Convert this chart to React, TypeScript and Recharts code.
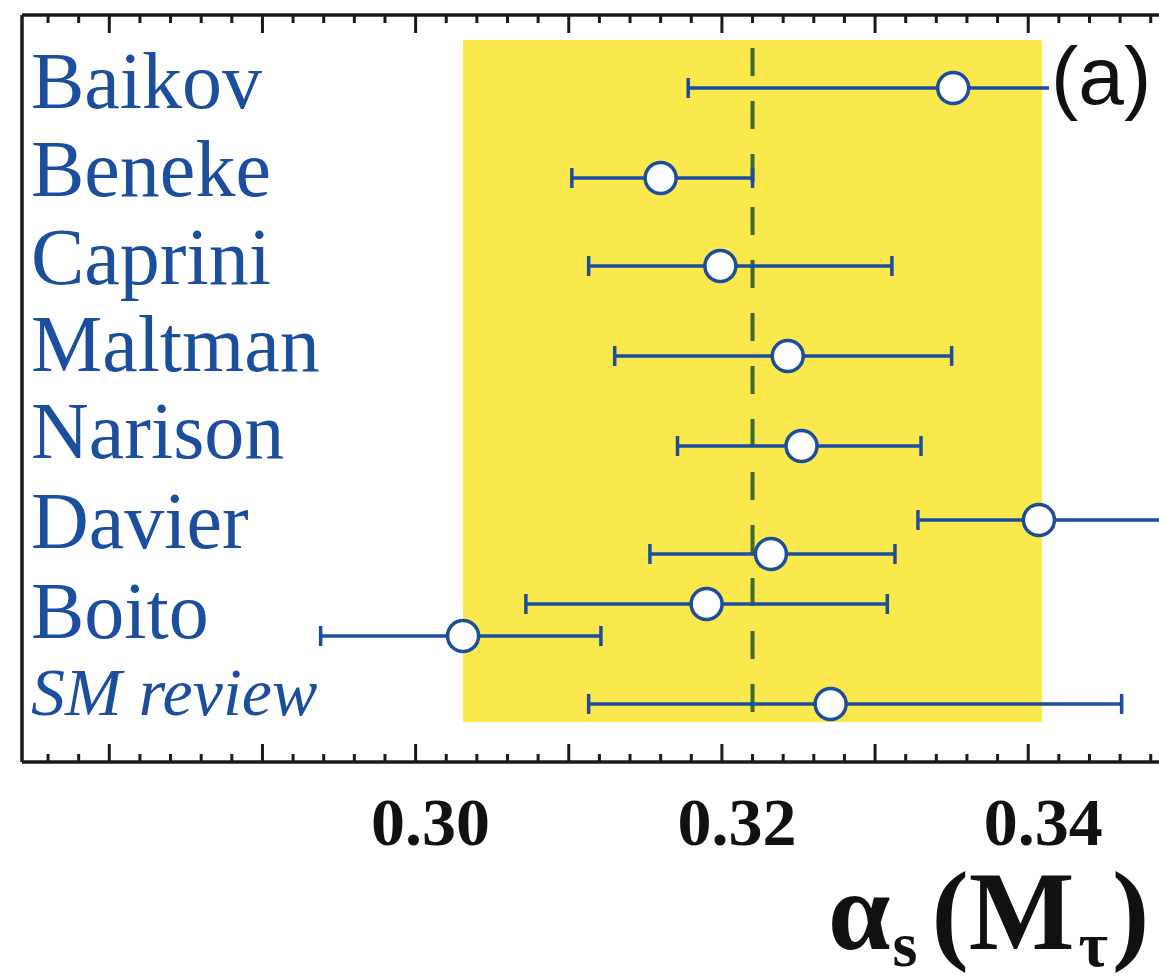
import React from "react"
import {
  ScatterChart,
  Scatter,
  XAxis,
  YAxis,
  ErrorBar,
  ReferenceArea,
  ReferenceLine,
  Label
} from "recharts"

// row labels drawn inside the frame, and where they sit (row units, 0 = top)
const names = ["Baikov", "Beneke", "Caprini", "Maltman", "Narison", "Davier", "Boito", "SM review"]
const namePos = [0.821, 1.81, 2.8, 3.778, 4.757, 5.769, 6.78, 7.703]

// measurements
const pointNames = ["Baikov", "Beneke", "Caprini", "Maltman", "Narison", "Davier", "Davier", "Boito", "Boito", "SM review"]
const pointRow = [0.821, 1.833, 2.822, 3.834, 4.846, 5.679, 6.061, 6.623, 6.983, 7.747]
const central = [0.3351, 0.316, 0.3199, 0.3243, 0.3252, 0.3407, 0.3232, 0.319, 0.3031, 0.3271]
const lower = [0.3178, 0.3102, 0.3113, 0.313, 0.3171, 0.3328, 0.3153, 0.3072, 0.2938, 0.3113]
const upper = [0.345, 0.322, 0.3311, 0.335, 0.333, 0.356, 0.3313, 0.3308, 0.3121, 0.3461]

// average and its band
const average = 0.322
const bandLow = 0.3031
const bandHigh = 0.3409

const xDomain = [0.2743, 0.352]
const xTicks = [
  0.276, 0.278, 0.28, 0.282, 0.284, 0.286, 0.288, 0.29, 0.292, 0.294, 0.296, 0.298,
  0.3, 0.302, 0.304, 0.306, 0.308, 0.31, 0.312, 0.314, 0.316, 0.318, 0.32, 0.322,
  0.324, 0.326, 0.328, 0.33, 0.332, 0.334, 0.336, 0.338, 0.34, 0.342, 0.344, 0.346,
  0.348, 0.35
]
const xLabels = [0.3, 0.32, 0.34]

const BLUE = "#1c4e9e"
const INK = "#1a1a1a"
const SERIF = "'Liberation Serif', 'Times New Roman', serif"
const PLOT_H = 747

const data = central.map((c, i) => ({
  name: pointNames[i],
  x: c,
  y: pointRow[i],
  err: [c - lower[i], upper[i] - c]
}))

const isMajor = (v: number) => Math.abs(v * 100 - Math.round(v * 100)) < 1e-6

// bottom axis tick: inward marks on bottom and top frame, plus label
const BottomTick = (props: any) => {
  const { x, y, payload } = props
  const v = payload.value
  const len = isMajor(v) ? 18 : 8
  const top = y - PLOT_H
  const showLabel = xLabels.some(l => Math.abs(l - v) < 1e-9)
  return (
    <g>
      <rect x={x - 1.5} y={y - len} width={3} height={len} fill={INK} />
      <rect x={x - 1.5} y={top} width={3} height={len} fill={INK} />
      {showLabel && (
        <text
          x={x + 15}
          y={y + 83}
          textAnchor="middle"
          fontFamily={SERIF}
          fontWeight="bold"
          fontSize={68}
          fill="#111"
        >
          {v.toFixed(2)}
        </text>
      )}
    </g>
  )
}

const NameTick = (props: any) => {
  const { x, y, payload, index } = props
  const i = typeof index === "number" ? index : namePos.indexOf(payload.value)
  const italic = names[i] === "SM review"
  return (
    <text
      x={x + 9}
      y={y + (italic ? 15 : 20)}
      fontFamily={SERIF}
      fontStyle={italic ? "italic" : "normal"}
      fontSize={italic ? 68 : 80}
      fill={BLUE}
    >
      {names[i]}
    </text>
  )
}

const renderTitle = (props: any) => {
  const vb = props.viewBox
  return (
    <text x={vb.x + 806} y={vb.y + 187} fontFamily={SERIF} fontWeight="bold" fontSize={112} fill="#111">
      α
      <tspan fontSize={64} dx={2} dy={17}>s</tspan>
      <tspan dx={14} dy={-17}>(M</tspan>
      <tspan fontSize={64} dx={4} dy={17}>τ</tspan>
      <tspan dx={4} dy={-17}>)</tspan>
    </text>
  )
}

const renderPanel = () => (
  <g>
    <rect x={1049} y={36} width={140} height={90} fill="#fff" />
    <text x={1051} y={104} fontFamily="'Liberation Sans', Arial, sans-serif" fontSize={82} fill="#111">
      (a)
    </text>
  </g>
)

const Marker = (props: any) => (
  <circle cx={props.cx} cy={props.cy} r={15.5} fill="#fff" stroke={BLUE} strokeWidth={3.5} />
)

export default function App() {
  return (
    <div
      style={{
        position: "fixed",
        left: 0,
        top: 0,
        width: 1159,
        height: 976,
        overflow: "hidden",
        background: "#fff"
      }}
    >
      <ScatterChart width={1222} height={976} margin={{ top: 15, right: 10, bottom: 0, left: 21 }}>
        <ReferenceArea x1={bandLow} x2={bandHigh} y1={0.28} y2={7.95} fill="#fae84c" fillOpacity={1} stroke="none" />
        <ReferenceLine
          segment={[{ x: average, y: 0.37 }, { x: average, y: 8.05 }]}
          stroke="#3d6b2c"
          strokeWidth={4}
          strokeDasharray="28 25"
        />
        <ReferenceLine y={0} stroke={INK} strokeWidth={3.5} ifOverflow="visible" />
        <Scatter data={data} shape={Marker} isAnimationActive={false}>
          <ErrorBar dataKey="err" direction="x" width={10} stroke={BLUE} strokeWidth={3.5} />
        </Scatter>
        <ReferenceLine y={4} stroke="none" ifOverflow="visible" label={renderPanel} />
        <XAxis
          dataKey="x"
          type="number"
          domain={xDomain}
          allowDataOverflow
          ticks={xTicks}
          interval={0}
          height={214}
          tickSize={0}
          tickMargin={0}
          tickLine={false}
          tick={BottomTick}
          axisLine={{ stroke: INK, strokeWidth: 3.5 }}
        >
          <Label content={renderTitle} />
        </XAxis>
        <YAxis
          dataKey="y"
          type="number"
          domain={[0, 8.4]}
          reversed
          allowDataOverflow
          ticks={namePos}
          interval={0}
          width={1}
          tickSize={0}
          tickMargin={0}
          tickLine={false}
          tick={NameTick}
          axisLine={{ stroke: INK, strokeWidth: 3.5 }}
        />
      </ScatterChart>
    </div>
  )
}
